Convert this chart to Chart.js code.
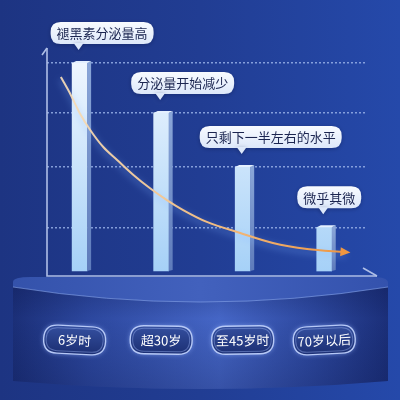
<!DOCTYPE html>
<html>
<head>
<meta charset="utf-8">
<style>
  html, body { margin: 0; padding: 0; background: #1f3a8c; }
  #wrap { width: 400px; height: 400px; }
</style>
<script src="https://cdn.jsdelivr.net/npm/chart.js@4.4.1/dist/chart.umd.min.js"></script>
</head>
<body>
<div id="wrap"><canvas id="chart" width="400" height="400"></canvas></div>
<script>
// data
var ages = ['6岁时', '超30岁', '至45岁时', '70岁以后'];
var levels = [100, 76, 50, 21];
var notes = ['褪黑素分泌量高', '分泌量开始减少', '只剩下一半左右的水平', '微乎其微'];
// decline curve (x in category units, y in the same units as levels)
var trendX = [-0.23, -0.12, 0.0, 0.13, 0.29, 0.46, 0.66, 0.86, 1.07, 1.27, 1.56, 1.97, 2.37, 2.79, 3.26];
var trendY = [93.3, 85.6, 76.0, 67.8, 59.6, 53.4, 46.2, 39.9, 34.1, 29.3, 23.6, 18.3, 13.5, 10.6, 9.1];

// styling only
var bubbleShift = [28, 29, 42, 26];
var pillNudge = [-5, 0, 0, 0];
var pillTilt = [0.05, 0.015, -0.015, -0.05];
var FONT = '"Noto Sans CJK SC", "Noto Sans", sans-serif';

Chart.defaults.font.family = FONT;

function rrect(ctx, x, y, w, h, r) {
  ctx.beginPath();
  ctx.moveTo(x + r, y);
  ctx.lineTo(x + w - r, y);
  ctx.quadraticCurveTo(x + w, y, x + w, y + r);
  ctx.lineTo(x + w, y + h - r);
  ctx.quadraticCurveTo(x + w, y + h, x + w - r, y + h);
  ctx.lineTo(x + r, y + h);
  ctx.quadraticCurveTo(x, y + h, x, y + h - r);
  ctx.lineTo(x, y + r);
  ctx.quadraticCurveTo(x, y, x + r, y);
  ctx.closePath();
}

var backdrop = {
  id: 'backdrop',
  beforeDraw: function (chart) {
    var ctx = chart.ctx, W = chart.width, H = chart.height;
    var b = chart.chartArea.bottom;
    ctx.save();
    var bg = ctx.createLinearGradient(0, 0, W, 0);
    bg.addColorStop(0, '#1d3482');
    bg.addColorStop(0.5, '#213d93');
    bg.addColorStop(1, '#2549aa');
    ctx.fillStyle = bg;
    ctx.fillRect(0, 0, W, H);

    // podium top surface
    var t = b + 1, l = 13, r = 388;
    ctx.beginPath();
    ctx.moveTo(l, t + 10);
    ctx.lineTo(l, t + 5);
    ctx.quadraticCurveTo(l, t, l + 18, t);
    ctx.lineTo(r - 16, t);
    ctx.quadraticCurveTo(r, t, r, t + 6);
    ctx.lineTo(r, t + 10);
    ctx.quadraticCurveTo(200, t + 40, l, t + 10);
    ctx.closePath();
    var tg = ctx.createLinearGradient(l, 0, r, 0);
    tg.addColorStop(0, '#3452ab');
    tg.addColorStop(0.5, '#4261bd');
    tg.addColorStop(1, '#3452ad');
    ctx.fillStyle = tg;
    ctx.fill();

    // podium front face
    ctx.beginPath();
    ctx.moveTo(l, t + 10);
    ctx.quadraticCurveTo(200, t + 40, r, t + 10);
    ctx.lineTo(r, t + 104);
    ctx.quadraticCurveTo(200, t + 120, l, t + 104);
    ctx.closePath();
    var fg = ctx.createLinearGradient(l, 0, r, 0);
    fg.addColorStop(0, '#1b2f78');
    fg.addColorStop(0.2, '#2c479e');
    fg.addColorStop(0.55, '#4566c6');
    fg.addColorStop(0.8, '#2d489f');
    fg.addColorStop(1, '#1b2f79');
    ctx.fillStyle = fg;
    ctx.fill();
    var sh = ctx.createLinearGradient(0, t + 10, 0, t + 115);
    sh.addColorStop(0, 'rgba(10,20,70,0.25)');
    sh.addColorStop(0.3, 'rgba(10,20,70,0)');
    sh.addColorStop(1, 'rgba(10,20,70,0.25)');
    ctx.fillStyle = sh;
    ctx.fill();

    // rim highlight
    ctx.beginPath();
    ctx.moveTo(l, t + 10);
    ctx.quadraticCurveTo(200, t + 40, r, t + 10);
    ctx.strokeStyle = 'rgba(140,170,240,0.6)';
    ctx.lineWidth = 1;
    ctx.stroke();
    ctx.restore();
  }
};

// side/top faces of the bars, glow under the curve and its arrow head
var bars3d = {
  id: 'bars3d',
  beforeDatasetDraw: function (chart, args) {
    if (args.index !== 1) return;
    var ctx = chart.ctx;
    ctx.save();
    ctx.shadowColor = 'rgba(130,180,255,0.65)';
    ctx.shadowBlur = 7;
    ctx.shadowOffsetY = 3;
  },
  afterDatasetDraw: function (chart, args) {
    var ctx = chart.ctx;
    if (args.index === 0) {
      ctx.save();
      args.meta.data.forEach(function (bar) {
        var p = bar.getProps(['x', 'y', 'base', 'width'], true);
        var xr = p.x + p.width / 2, xl = p.x - p.width / 2;
        var g = ctx.createLinearGradient(0, p.y, 0, p.base);
        g.addColorStop(0, '#8aa6d8');
        g.addColorStop(1, '#5e7bbb');
        ctx.fillStyle = g;
        ctx.beginPath();
        ctx.moveTo(xr, p.y);
        ctx.lineTo(xr + 4, p.y - 2);
        ctx.lineTo(xr + 4, p.base - 1);
        ctx.lineTo(xr, p.base);
        ctx.closePath();
        ctx.fill();
        ctx.fillStyle = '#e4f0ff';
        ctx.beginPath();
        ctx.moveTo(xl, p.y);
        ctx.lineTo(xl + 4, p.y - 2);
        ctx.lineTo(xr + 4, p.y - 2);
        ctx.lineTo(xr, p.y);
        ctx.closePath();
        ctx.fill();
      });
      ctx.restore();
    } else if (args.index === 1) {
      ctx.restore();
      var pts = args.meta.data;
      var a = pts[pts.length - 2], z = pts[pts.length - 1];
      var ang = Math.atan2(z.y - a.y, z.x - a.x);
      ctx.save();
      ctx.translate(z.x, z.y);
      ctx.rotate(ang);
      ctx.fillStyle = '#f0963f';
      ctx.beginPath();
      ctx.moveTo(5, 0);
      ctx.lineTo(-5, -4.5);
      ctx.lineTo(-5, 4.5);
      ctx.closePath();
      ctx.fill();
      ctx.restore();
    }
  }
};

var overlay = {
  id: 'overlay',
  afterDraw: function (chart) {
    var ctx = chart.ctx, a = chart.chartArea;
    var xs = chart.scales.x;
    ctx.save();

    // axes with half arrow heads
    var ax = a.left, ay = a.bottom;
    ctx.strokeStyle = '#aebee6';
    ctx.lineWidth = 1.6;
    ctx.beginPath();
    ctx.moveTo(ax, a.top);
    ctx.lineTo(ax, ay);
    ctx.lineTo(a.right + 12, ay);
    ctx.stroke();
    ctx.beginPath();
    ctx.moveTo(ax, a.top);
    ctx.lineTo(ax - 5, a.top + 7);
    ctx.moveTo(a.right + 12, ay);
    ctx.lineTo(a.right - 2, ay - 8);
    ctx.stroke();

    // speech bubbles
    var bars = chart.getDatasetMeta(0).data;
    ctx.font = '13px ' + FONT;
    notes.forEach(function (txt, i) {
      var tipX = bars[i].x - 1, tipY = bars[i].y - 13;
      var w = ctx.measureText(txt).width + 12, h = 22;
      var left = tipX - bubbleShift[i], bottom = tipY - 6, top = bottom - h;
      ctx.save();
      ctx.shadowColor = 'rgba(5,15,60,0.35)';
      ctx.shadowBlur = 4;
      ctx.shadowOffsetY = 1;
      var g = ctx.createLinearGradient(0, top, 0, bottom);
      g.addColorStop(0, '#f8fbff');
      g.addColorStop(1, '#dde8fa');
      ctx.fillStyle = g;
      rrect(ctx, left, top, w, h, 10);
      ctx.fill();
      ctx.beginPath();
      ctx.moveTo(tipX - 5, bottom - 1);
      ctx.lineTo(tipX, tipY);
      ctx.lineTo(tipX + 5, bottom - 1);
      ctx.closePath();
      ctx.fillStyle = '#dde8fa';
      ctx.fill();
      ctx.restore();
      ctx.fillStyle = '#1b2550';
      ctx.textAlign = 'left';
      ctx.textBaseline = 'middle';
      ctx.fillText(txt, left + 6, top + h / 2 + 0.5);
    });

    // category labels on the podium
    ages.forEach(function (txt, i) {
      var cx = xs.getPixelForValue(i) + pillNudge[i], cy = 340;
      var w = 62, h = 28;
      ctx.save();
      ctx.translate(cx, cy);
      ctx.rotate(pillTilt[i]);
      ctx.shadowColor = 'rgba(150,180,255,0.7)';
      ctx.shadowBlur = 5;
      var g = ctx.createLinearGradient(0, -h / 2, 0, h / 2);
      g.addColorStop(0, '#344f9f');
      g.addColorStop(1, '#1c2f73');
      ctx.fillStyle = g;
      rrect(ctx, -w / 2, -h / 2, w, h, h / 2);
      ctx.fill();
      ctx.shadowBlur = 0;
      ctx.strokeStyle = '#b6c8f6';
      ctx.lineWidth = 1.4;
      ctx.stroke();
      rrect(ctx, -w / 2 + 2.5, -h / 2 + 2.5, w - 5, h - 5, h / 2 - 2.5);
      ctx.strokeStyle = 'rgba(150,175,240,0.45)';
      ctx.lineWidth = 1;
      ctx.stroke();
      ctx.fillStyle = '#ffffff';
      ctx.font = '13px ' + FONT;
      ctx.textAlign = 'center';
      ctx.textBaseline = 'middle';
      ctx.fillText(txt, 0, 0.5);
      ctx.restore();
    });
    ctx.restore();
  }
};

var ctx = document.getElementById('chart');
var declineChart = new Chart(ctx, {
  type: 'bar',
  data: {
    datasets: [
      {
        type: 'bar',
        label: '褪黑素分泌量',
        data: levels.map(function (v, i) { return { x: i, y: v }; }),
        barThickness: 15,
        order: 2,
        backgroundColor: function (c) {
          var a = c.chart.chartArea;
          if (!a) return '#bcdcf8';
          var g = c.chart.ctx.createLinearGradient(0, a.top, 0, a.bottom);
          g.addColorStop(0, '#f4f9ff');
          g.addColorStop(1, '#a4d0f7');
          return g;
        }
      },
      {
        type: 'line',
        label: '趋势',
        data: trendX.map(function (x, i) { return { x: x, y: trendY[i] }; }),
        order: 1,
        borderWidth: 2,
        pointRadius: 0,
        tension: 0.4,
        cubicInterpolationMode: 'monotone',
        borderColor: function (c) {
          var a = c.chart.chartArea;
          if (!a) return '#f0963f';
          var g = c.chart.ctx.createLinearGradient(a.left, 0, a.right, 0);
          g.addColorStop(0, 'rgba(248,225,190,0.9)');
          g.addColorStop(0.5, '#f1be85');
          g.addColorStop(1, '#ee9038');
          return g;
        }
      }
    ]
  },
  options: {
    responsive: false,
    animation: false,
    devicePixelRatio: 1,
    layout: { padding: { left: 47, right: 35, top: 48, bottom: 124 } },
    plugins: { legend: { display: false }, tooltip: { enabled: false } },
    scales: {
      x: { type: 'linear', min: -0.4, max: 3.5, offset: false, display: false },
      y: {
        min: -2.4,
        max: 107.2,
        afterBuildTicks: function (s) { s.ticks = levels.map(function (v) { return { value: v }; }); },
        afterFit: function (s) { s.width = 0; },
        ticks: { display: false },
        grid: { color: 'rgba(150,175,230,0.85)', lineWidth: 1.5, drawTicks: false },
        border: { display: false, dash: [2, 2] }
      }
    }
  },
  plugins: [backdrop, bars3d, overlay]
});
</script>
</body>
</html>
